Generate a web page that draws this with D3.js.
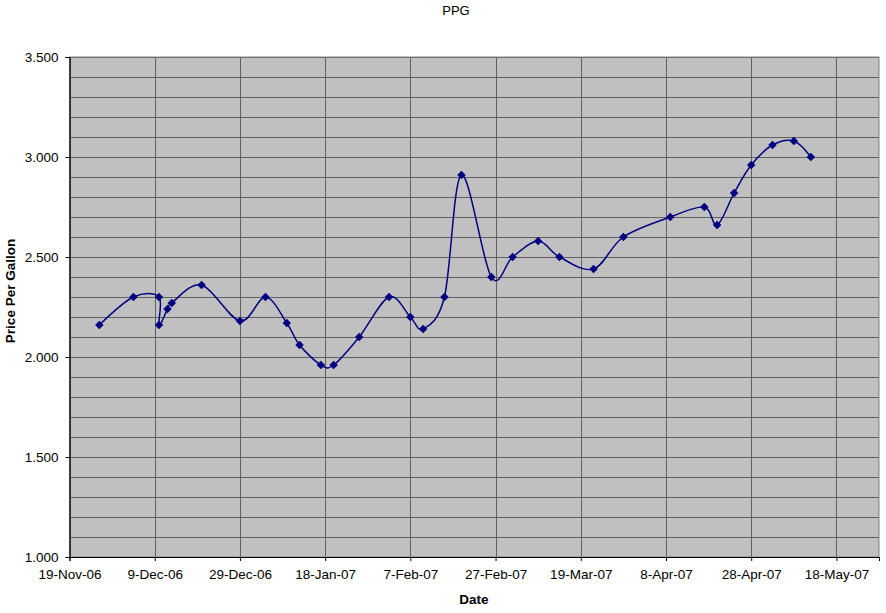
<!DOCTYPE html>
<html><head><meta charset="utf-8">
<script src="https://cdn.jsdelivr.net/npm/d3@7"></script>
<style>body{margin:0;background:#fff;}svg{display:block;font-family:"Liberation Sans",Arial,sans-serif;}</style>
</head><body>
<svg id="c" width="886" height="613"></svg>
<script>
const dates = ["2006-11-26","2006-12-04","2006-12-10","2006-12-10","2006-12-12","2006-12-13","2006-12-20","2006-12-29",
"2007-01-04","2007-01-09","2007-01-12","2007-01-17","2007-01-20","2007-01-26","2007-02-02","2007-02-07","2007-02-10",
"2007-02-15","2007-02-19","2007-02-26","2007-03-03","2007-03-09","2007-03-14","2007-03-22","2007-03-29","2007-04-09",
"2007-04-17","2007-04-20","2007-04-24","2007-04-28","2007-05-03","2007-05-08","2007-05-12"];
const prices = [2.16,2.30,2.30,2.16,2.24,2.27,2.36,2.18,
2.30,2.17,2.06,1.96,1.96,2.10,2.30,2.20,2.14,
2.30,2.91,2.40,2.50,2.58,2.50,2.44,2.60,2.70,
2.75,2.66,2.82,2.96,3.06,3.08,3.00];
const xTicks = ["2006-11-19","2006-12-09","2006-12-29","2007-01-18","2007-02-07","2007-02-27","2007-03-19","2007-04-08","2007-04-28","2007-05-18"];
const xDomain = ["2006-11-19","2007-05-28"];
const yTicks = [1.0,1.5,2.0,2.5,3.0,3.5];
const yMinor = [1.1,1.2,1.3,1.4,1.6,1.7,1.8,1.9,2.1,2.2,2.3,2.4,2.6,2.7,2.8,2.9,3.1,3.2,3.3,3.4];
const title = "PPG", xTitle = "Date", yTitle = "Price Per Gallon";

const parse = d3.utcParse("%Y-%m-%d");
const fmt = d3.utcFormat("%-d-%b-%y");
const L=69.5, R=879, T=57, B=557;
const svg = d3.select("#c");
const x = d3.scaleUtc().domain(xDomain.map(parse)).range([L,R]);
const y = d3.scaleLinear().domain([1,3.5]).range([B,T]);

svg.append("rect").attr("x",L).attr("y",T).attr("width",R-L).attr("height",B-T).attr("fill","#c0c0c0");
const g = svg.append("g");
g.selectAll(".hm").data(yMinor.concat(yTicks)).join("line")
 .attr("x1",L).attr("x2",R).attr("y1",d=>Math.round(y(d))+0.5).attr("y2",d=>Math.round(y(d))+0.5)
 .attr("stroke","#606060").attr("stroke-width",1);
g.selectAll(".vm").data(xTicks.map(parse)).join("line")
 .attr("y1",T).attr("y2",B).attr("x1",d=>Math.round(x(d))+0.5).attr("x2",d=>Math.round(x(d))+0.5)
 .attr("stroke","#606060").attr("stroke-width",1);
svg.append("rect").attr("x",L).attr("y",T).attr("width",R-L).attr("height",B-T).attr("fill","none").attr("stroke","#808080");

const xa = svg.append("g").attr("transform",`translate(0,${B})`)
 .call(d3.axisBottom(x).tickValues(xTicks.map(parse)).tickFormat(fmt).tickSize(4).tickPadding(8));
const ya = svg.append("g").attr("transform",`translate(${L},0)`)
 .call(d3.axisLeft(y).tickValues(yTicks).tickFormat(d3.format(".3f")).tickSize(4).tickPadding(7));
[xa,ya].forEach(a=>{a.select(".domain").attr("stroke","#000");a.selectAll(".tick line").attr("stroke","#000");
 a.selectAll("text").attr("font-size",13.5).attr("fill","#000").attr("font-family","Liberation Sans, Arial, sans-serif");});

const data = dates.map((d,i)=>({d:parse(d),v:prices[i]}));
const line = d3.line().x(d=>x(d.d)).y(d=>y(d.v)).curve(d3.curveCardinal.tension(0));
svg.append("path").datum(data).attr("d",line).attr("fill","none").attr("stroke","#000080").attr("stroke-width",1.5);
svg.selectAll(".m").data(data).join("path")
 .attr("d",d3.symbol(d3.symbolDiamond2,46)())
 .attr("transform",d=>`translate(${x(d.d)},${y(d.v)})`).attr("fill","#000080");

svg.append("text").attr("x",456).attr("y",15).attr("text-anchor","middle").attr("font-size",13).text(title);
svg.append("text").attr("x",474).attr("y",604).attr("text-anchor","middle").attr("font-size",13.5).attr("font-weight","bold").text(xTitle);
svg.append("text").attr("transform","translate(15,291) rotate(-90)").attr("text-anchor","middle").attr("font-size",13.5).attr("font-weight","bold").text(yTitle);
</script>
</body></html>
